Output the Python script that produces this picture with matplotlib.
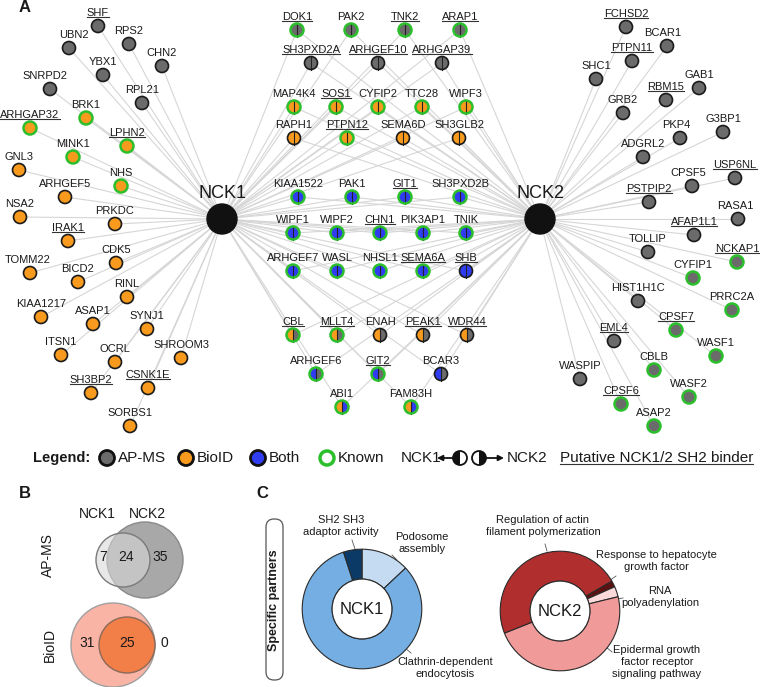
import matplotlib
matplotlib.use('Agg')
import matplotlib.pyplot as plt
from matplotlib.patches import Circle, Wedge, FancyBboxPatch

plt.rcParams['font.family'] = ['Liberation Sans', 'DejaVu Sans']

# ---------------- data ----------------
nck1_specific = ['SHF', 'UBN2', 'RPS2', 'CHN2', 'YBX1', 'SNRPD2', 'RPL21', 'BRK1', 'ARHGAP32',
                 'LPHN2', 'MINK1', 'GNL3', 'NHS', 'ARHGEF5', 'NSA2', 'PRKDC', 'IRAK1', 'CDK5',
                 'TOMM22', 'BICD2', 'RINL', 'KIAA1217', 'ASAP1', 'SYNJ1', 'ITSN1', 'OCRL',
                 'SHROOM3', 'SH3BP2', 'CSNK1E', 'SORBS1']
nck1_specific_method = ['AP-MS', 'AP-MS', 'AP-MS', 'AP-MS', 'AP-MS', 'AP-MS', 'AP-MS',
                        'BioID', 'BioID', 'BioID', 'BioID', 'BioID', 'BioID', 'BioID', 'BioID',
                        'BioID', 'BioID', 'BioID', 'BioID', 'BioID', 'BioID', 'BioID', 'BioID',
                        'BioID', 'BioID', 'BioID', 'BioID', 'BioID', 'BioID', 'BioID']
nck2_specific = ['FCHSD2', 'BCAR1', 'PTPN11', 'SHC1', 'GAB1', 'RBM15', 'GRB2', 'G3BP1', 'PKP4',
                 'ADGRL2', 'USP6NL', 'CPSF5', 'PSTPIP2', 'RASA1', 'AFAP1L1', 'TOLLIP', 'NCKAP1',
                 'CYFIP1', 'HIST1H1C', 'PRRC2A', 'CPSF7', 'EML4', 'WASF1', 'CBLB', 'WASPIP',
                 'WASF2', 'CPSF6', 'ASAP2']
shared = ['DOK1', 'PAK2', 'TNK2', 'ARAP1', 'SH3PXD2A', 'ARHGEF10', 'ARHGAP39',
          'MAP4K4', 'SOS1', 'CYFIP2', 'TTC28', 'WIPF3', 'RAPH1', 'PTPN12', 'SEMA6D', 'SH3GLB2',
          'KIAA1522', 'PAK1', 'GIT1', 'SH3PXD2B', 'WIPF1', 'WIPF2', 'CHN1', 'PIK3AP1', 'TNIK',
          'ARHGEF7', 'WASL', 'NHSL1', 'SEMA6A', 'SHB', 'CBL', 'MLLT4', 'ENAH', 'PEAK1', 'WDR44',
          'ARHGEF6', 'GIT2', 'BCAR3', 'ABI1', 'FAM83H']
shared_nck1_method = ['AP-MS', 'AP-MS', 'AP-MS', 'AP-MS', 'AP-MS', 'AP-MS', 'AP-MS',
                      'BioID', 'BioID', 'BioID', 'BioID', 'BioID', 'BioID', 'BioID', 'BioID', 'BioID',
                      'Both', 'Both', 'Both', 'Both', 'Both', 'Both', 'Both', 'Both', 'Both',
                      'Both', 'Both', 'Both', 'Both', 'Both', 'BioID', 'BioID', 'BioID', 'BioID', 'BioID',
                      'Both', 'Both', 'Both', 'BioID', 'BioID']
shared_nck2_method = ['AP-MS', 'AP-MS', 'AP-MS', 'AP-MS', 'AP-MS', 'AP-MS', 'AP-MS',
                      'BioID', 'BioID', 'BioID', 'BioID', 'BioID', 'BioID', 'BioID', 'BioID', 'BioID',
                      'Both', 'Both', 'Both', 'Both', 'Both', 'Both', 'Both', 'Both', 'Both',
                      'Both', 'Both', 'Both', 'Both', 'Both', 'AP-MS', 'AP-MS', 'AP-MS', 'AP-MS', 'AP-MS',
                      'AP-MS', 'AP-MS', 'AP-MS', 'Both', 'Both']
known_partners = ['BRK1', 'ARHGAP32', 'LPHN2', 'MINK1', 'NHS',
                  'DOK1', 'PAK2', 'TNK2', 'ARAP1', 'MAP4K4', 'SOS1', 'CYFIP2', 'TTC28', 'WIPF3',
                  'PTPN12', 'KIAA1522', 'PAK1', 'GIT1', 'SH3PXD2B', 'WIPF1', 'WIPF2', 'CHN1',
                  'PIK3AP1', 'TNIK', 'ARHGEF7', 'WASL', 'NHSL1', 'SEMA6A', 'CBL', 'MLLT4',
                  'ARHGEF6', 'GIT2', 'ABI1', 'FAM83H',
                  'NCKAP1', 'CYFIP1', 'PRRC2A', 'CPSF7', 'WASF1', 'CBLB', 'WASF2', 'CPSF6', 'ASAP2']
sh2_binders = ['SHF', 'ARHGAP32', 'LPHN2', 'IRAK1', 'SH3BP2', 'CSNK1E',
               'DOK1', 'TNK2', 'ARAP1', 'SH3PXD2A', 'ARHGEF10', 'ARHGAP39', 'SOS1', 'PTPN12',
               'GIT1', 'CHN1', 'SEMA6A', 'SHB', 'CBL', 'MLLT4', 'PEAK1', 'WDR44', 'GIT2',
               'FCHSD2', 'PTPN11', 'RBM15', 'USP6NL', 'PSTPIP2', 'AFAP1L1', 'NCKAP1', 'CPSF7',
               'EML4', 'CPSF6']

venn_sets = ['NCK1', 'NCK2']
venn_apms = [7, 24, 35]     # NCK1 only, shared, NCK2 only
venn_bioid = [31, 25, 0]

nck1_terms = ['Podosome\nassembly', 'Clathrin-dependent\nendocytosis', 'SH2 SH3\nadaptor activity']
nck1_term_share = [13, 82, 5]
nck2_terms = ['Response to hepatocyte\ngrowth factor', 'RNA\npolyadenylation',
              'Epidermal growth\nfactor receptor\nsignaling pathway',
              'Regulation of actin\nfilament polymerization']
nck2_term_share = [1.7, 2.8, 47.8, 47.7]

# ---------------- layout / style ----------------
W, H = 760, 687
method_color = {'AP-MS': '#6b6b6b', 'BioID': '#f89a1e', 'Both': '#2f3cef'}
green = '#2bbf2b'
edge_col = '#d6d6d6'
txt = '#1a1a1a'
hub_pos = {'NCK1': (222, 219), 'NCK2': (540, 219)}
pos = {
    'SHF': (98, 26), 'UBN2': (69, 48), 'RPS2': (129, 44), 'CHN2': (162, 66), 'YBX1': (103, 75),
    'SNRPD2': (50, 89), 'RPL21': (142, 103), 'BRK1': (86, 118), 'ARHGAP32': (30, 128),
    'LPHN2': (127, 146), 'MINK1': (73, 157), 'GNL3': (19, 170), 'NHS': (121, 186),
    'ARHGEF5': (65, 197), 'NSA2': (20, 217), 'PRKDC': (115, 224), 'IRAK1': (68, 241),
    'CDK5': (116, 263), 'TOMM22': (30, 273), 'BICD2': (78, 282), 'RINL': (127, 297),
    'KIAA1217': (41, 317), 'ASAP1': (93, 324), 'SYNJ1': (147, 329), 'ITSN1': (61, 355),
    'OCRL': (115, 362), 'SHROOM3': (181, 358), 'SH3BP2': (91, 393), 'CSNK1E': (148, 388),
    'SORBS1': (130, 426),
    'DOK1': (297, 30), 'PAK2': (351, 30), 'TNK2': (405, 30), 'ARAP1': (460, 30),
    'SH3PXD2A': (311, 63), 'ARHGEF10': (378, 63), 'ARHGAP39': (442, 63),
    'MAP4K4': (294, 107), 'SOS1': (336, 107), 'CYFIP2': (378, 107), 'TTC28': (422, 107),
    'WIPF3': (466, 107), 'RAPH1': (294, 138), 'PTPN12': (347, 138), 'SEMA6D': (403, 138),
    'SH3GLB2': (459, 138), 'KIAA1522': (298, 197), 'PAK1': (352, 197), 'GIT1': (405, 197),
    'SH3PXD2B': (460, 197), 'WIPF1': (293, 233), 'WIPF2': (337, 233), 'CHN1': (380, 233),
    'PIK3AP1': (423, 233), 'TNIK': (466, 233), 'ARHGEF7': (293, 271), 'WASL': (337, 271),
    'NHSL1': (380, 271), 'SEMA6A': (423, 271), 'SHB': (466, 271), 'CBL': (293, 335),
    'MLLT4': (337, 335), 'ENAH': (380, 335), 'PEAK1': (423, 335), 'WDR44': (467, 335),
    'ARHGEF6': (316, 374), 'GIT2': (378, 374), 'BCAR3': (441, 374), 'ABI1': (342, 407),
    'FAM83H': (411, 407),
    'FCHSD2': (626, 27), 'BCAR1': (667, 46), 'PTPN11': (632, 61), 'SHC1': (596, 79),
    'GAB1': (699, 88), 'RBM15': (666, 100), 'GRB2': (623, 113), 'G3BP1': (723, 132),
    'PKP4': (680, 138), 'ADGRL2': (643, 157), 'USP6NL': (735, 178), 'CPSF5': (692, 186),
    'PSTPIP2': (649, 202), 'RASA1': (738, 219), 'AFAP1L1': (694, 235), 'TOLLIP': (648, 252),
    'NCKAP1': (737, 262), 'CYFIP1': (693, 278), 'HIST1H1C': (638, 301), 'PRRC2A': (732, 310),
    'CPSF7': (676, 330), 'EML4': (614, 341), 'WASF1': (716, 356), 'CBLB': (654, 370),
    'WASPIP': (580, 379), 'WASF2': (689, 397), 'CPSF6': (621, 404), 'ASAP2': (654, 426),
}
label_dx = {'UBN2': 5, 'SNRPD2': -5, 'TOMM22': -2, 'BCAR1': -4, 'PKP4': -4, 'CPSF5': -4,
            'RASA1': -3}
node_r = 6.5

fig = plt.figure(figsize=(W / 100, H / 100), dpi=100)
ax = fig.add_axes([0, 0, 1, 1])
ax.set_xlim(0, W)
ax.set_ylim(H, 0)
ax.axis('off')

# edges
for n in nck1_specific:
    x, y = pos[n]
    ax.plot([x, hub_pos['NCK1'][0]], [y, hub_pos['NCK1'][1]], color=edge_col, lw=0.8, zorder=1)
for n in nck2_specific:
    x, y = pos[n]
    ax.plot([x, hub_pos['NCK2'][0]], [y, hub_pos['NCK2'][1]], color=edge_col, lw=0.8, zorder=1)
for n in shared:
    x, y = pos[n]
    for h in hub_pos.values():
        ax.plot([x, h[0]], [y, h[1]], color=edge_col, lw=0.8, zorder=1)

labels_to_underline = []


def node_label(n):
    x, y = pos[n]
    t = ax.text(x + label_dx.get(n, 0), y - 13, n, fontsize=8, ha='center', va='center',
                color=txt, zorder=6)
    if n in sh2_binders:
        labels_to_underline.append(t)


def outline(n):
    x, y = pos[n]
    k = n in known_partners
    ax.add_patch(Circle((x, y), node_r, facecolor='none',
                        edgecolor=green if k else '#1a1a1a', lw=1.8 if k else 1.2, zorder=5))


for n, m in zip(nck1_specific, nck1_specific_method):
    ax.add_patch(Circle(pos[n], node_r, facecolor=method_color[m], edgecolor='none', zorder=4))
    outline(n)
    node_label(n)
for n in nck2_specific:
    ax.add_patch(Circle(pos[n], node_r, facecolor=method_color['AP-MS'], edgecolor='none', zorder=4))
    outline(n)
    node_label(n)
for n, m1, m2 in zip(shared, shared_nck1_method, shared_nck2_method):
    x, y = pos[n]
    ax.add_patch(Wedge((x, y), node_r, 90, 270, facecolor=method_color[m1], edgecolor='none', zorder=4))
    ax.add_patch(Wedge((x, y), node_r, 270, 90, facecolor=method_color[m2], edgecolor='none', zorder=4))
    ax.plot([x, x], [y - node_r, y + node_r], color='#222222', lw=0.8, zorder=4.5)
    outline(n)
    node_label(n)

# hubs
for h, (x, y) in hub_pos.items():
    ax.add_patch(Circle((x, y), 15, facecolor='#111111', edgecolor='#111111', zorder=5))
    ax.text(x, y - 25, h, fontsize=13, ha='center', va='center', color=txt, zorder=6)

# panel letters
for s, (x, y) in {'A': (25, 8), 'B': (25, 493), 'C': (262, 493)}.items():
    ax.text(x, y, s, fontsize=12, fontweight='bold', ha='center', va='center', color=txt)

# legend row
ly = 458
ax.text(33, ly, 'Legend:', fontsize=10.5, fontweight='bold', ha='left', va='center', color=txt)
for label, cx, tx in [('AP-MS', 107, 118), ('BioID', 186, 197), ('Both', 258, 269)]:
    ax.add_patch(Circle((cx, ly), 7.5, facecolor=method_color[label], edgecolor='#111111', lw=2))
    ax.text(tx, ly, label, fontsize=11, ha='left', va='center', color=txt)
ax.add_patch(Circle((327, ly), 7, facecolor='white', edgecolor=green, lw=2.5))
ax.text(338, ly, 'Known', fontsize=11, ha='left', va='center', color=txt)
ax.text(401, ly, 'NCK1', fontsize=11, ha='left', va='center', color=txt)
ax.annotate('', xy=(437, ly), xytext=(454, ly),
            arrowprops=dict(arrowstyle='-|>', color='#111111', lw=1.3, mutation_scale=8,
                            shrinkA=0, shrinkB=0))
ax.add_patch(Wedge((460, ly), 7, 90, 270, facecolor='#111111', edgecolor='none'))
ax.add_patch(Circle((460, ly), 7, facecolor='none', edgecolor='#111111', lw=1.3))
ax.add_patch(Wedge((479, ly), 7, 270, 90, facecolor='#111111', edgecolor='none'))
ax.add_patch(Circle((479, ly), 7, facecolor='none', edgecolor='#111111', lw=1.3))
ax.annotate('', xy=(504, ly), xytext=(486, ly),
            arrowprops=dict(arrowstyle='-|>', color='#111111', lw=1.3, mutation_scale=8,
                            shrinkA=0, shrinkB=0))
ax.text(507, ly, 'NCK2', fontsize=11, ha='left', va='center', color=txt)
t = ax.text(560, ly, 'Putative NCK1/2 SH2 binder', fontsize=11, ha='left', va='center', color=txt)
labels_to_underline.append(t)

# ---------------- panel B: Venn ----------------
ax.text(97, 514, venn_sets[0], fontsize=10, ha='center', va='center', color=txt)
ax.text(147, 514, venn_sets[1], fontsize=10, ha='center', va='center', color=txt)
ax.text(48, 555, 'AP-MS', fontsize=10, rotation=90, ha='center', va='center', color=txt)
ax.text(50, 645, 'BioID', fontsize=10, rotation=90, ha='center', va='center', color=txt)
ax.add_patch(Circle((145, 560), 38, facecolor='#a8a8a8', edgecolor='#8a8a8a', lw=1))
ax.add_patch(Circle((123, 560), 27, facecolor='#d8d8d8', alpha=0.59, edgecolor='none'))
ax.add_patch(Circle((123, 560), 27, facecolor='none', edgecolor='#7a7a7a', lw=1))
for v, x in zip(venn_apms, [103, 126, 160]):
    ax.text(x, 557, str(v), fontsize=10, ha='center', va='center', color=txt)
ax.add_patch(Circle((113, 645), 42, facecolor='#f9b4a6', edgecolor='#a0a0a0', lw=1))
ax.add_patch(Circle((127, 645), 28, facecolor='#f27e48', edgecolor='#8a6a5a', lw=1))
for v, x in zip(venn_bioid, [87, 127, 164]):
    ax.text(x, 643, str(v), fontsize=10, ha='center', va='center', color=txt)

# ---------------- panel C: donuts ----------------
ax.add_patch(FancyBboxPatch((266, 519), 17, 161, boxstyle='round,pad=0,rounding_size=8',
                            facecolor='white', edgecolor='#555555', lw=0.9))
ax.text(274.5, 600, 'Specific partners', fontsize=9, fontweight='bold', rotation=90,
        ha='center', va='center', color=txt)


def donut(cx, cy, r, values, colors, start, label):
    a = fig.add_axes([(cx - r) / W, 1 - (cy + r) / H, 2 * r / W, 2 * r / H])
    a.pie(values, colors=colors, startangle=start, counterclock=False,
          wedgeprops=dict(width=0.5, edgecolor='#2a2a2a', linewidth=0.8))
    a.add_patch(Circle((0, 0), 0.5, facecolor='white', edgecolor='#2a2a2a', lw=0.8))
    a.set_xlim(-1.02, 1.02)
    a.set_ylim(-1.02, 1.02)
    a.set_aspect('equal')
    a.axis('off')
    a.text(0, 0, label, fontsize=12, ha='center', va='center', color=txt)


donut(362, 609, 61, nck1_term_share, ['#c5dbf1', '#74aee2', '#0b3a66'], 90, 'NCK1')
donut(560, 611, 61, nck2_term_share, ['#5c1010', '#fadadb', '#f09a99', '#b12e2e'], 30, 'NCK2')

ann = [
    (nck1_terms[2], 341, 526, [(352, 540), (355, 549)]),
    (nck1_terms[0], 422, 543, [(392, 555), (397, 560)]),
    (nck1_terms[1], 445, 668, [(411, 653), (405, 648)]),
    (nck2_terms[3], 543, 526, [(545, 544), (547, 551)]),
    (nck2_terms[0], 656, 561, [(616, 576), (609, 581)]),
    (nck2_terms[1], 660, 597, [(623, 598), (617, 599)]),
    (nck2_terms[2], 657, 662, [(612, 652), (606, 647)]),
]
for s, x, y, seg in ann:
    ax.text(x, y, s, fontsize=8, ha='center', va='center', color=txt, linespacing=1.3)
    ax.plot([seg[0][0], seg[1][0]], [seg[0][1], seg[1][1]], color='#555555', lw=0.6)

# underline SH2 binders
fig.canvas.draw()
r = fig.canvas.get_renderer()
inv = ax.transData.inverted()
for t in labels_to_underline:
    bb = t.get_window_extent(r)
    (x0, y0), (x1, y1) = inv.transform([(bb.x0, bb.y0), (bb.x1, bb.y1)])
    ax.plot([x0, x1], [y0 - 1, y0 - 1], color='#333333', lw=0.8, zorder=6)

fig.savefig('out.png', dpi=100)
